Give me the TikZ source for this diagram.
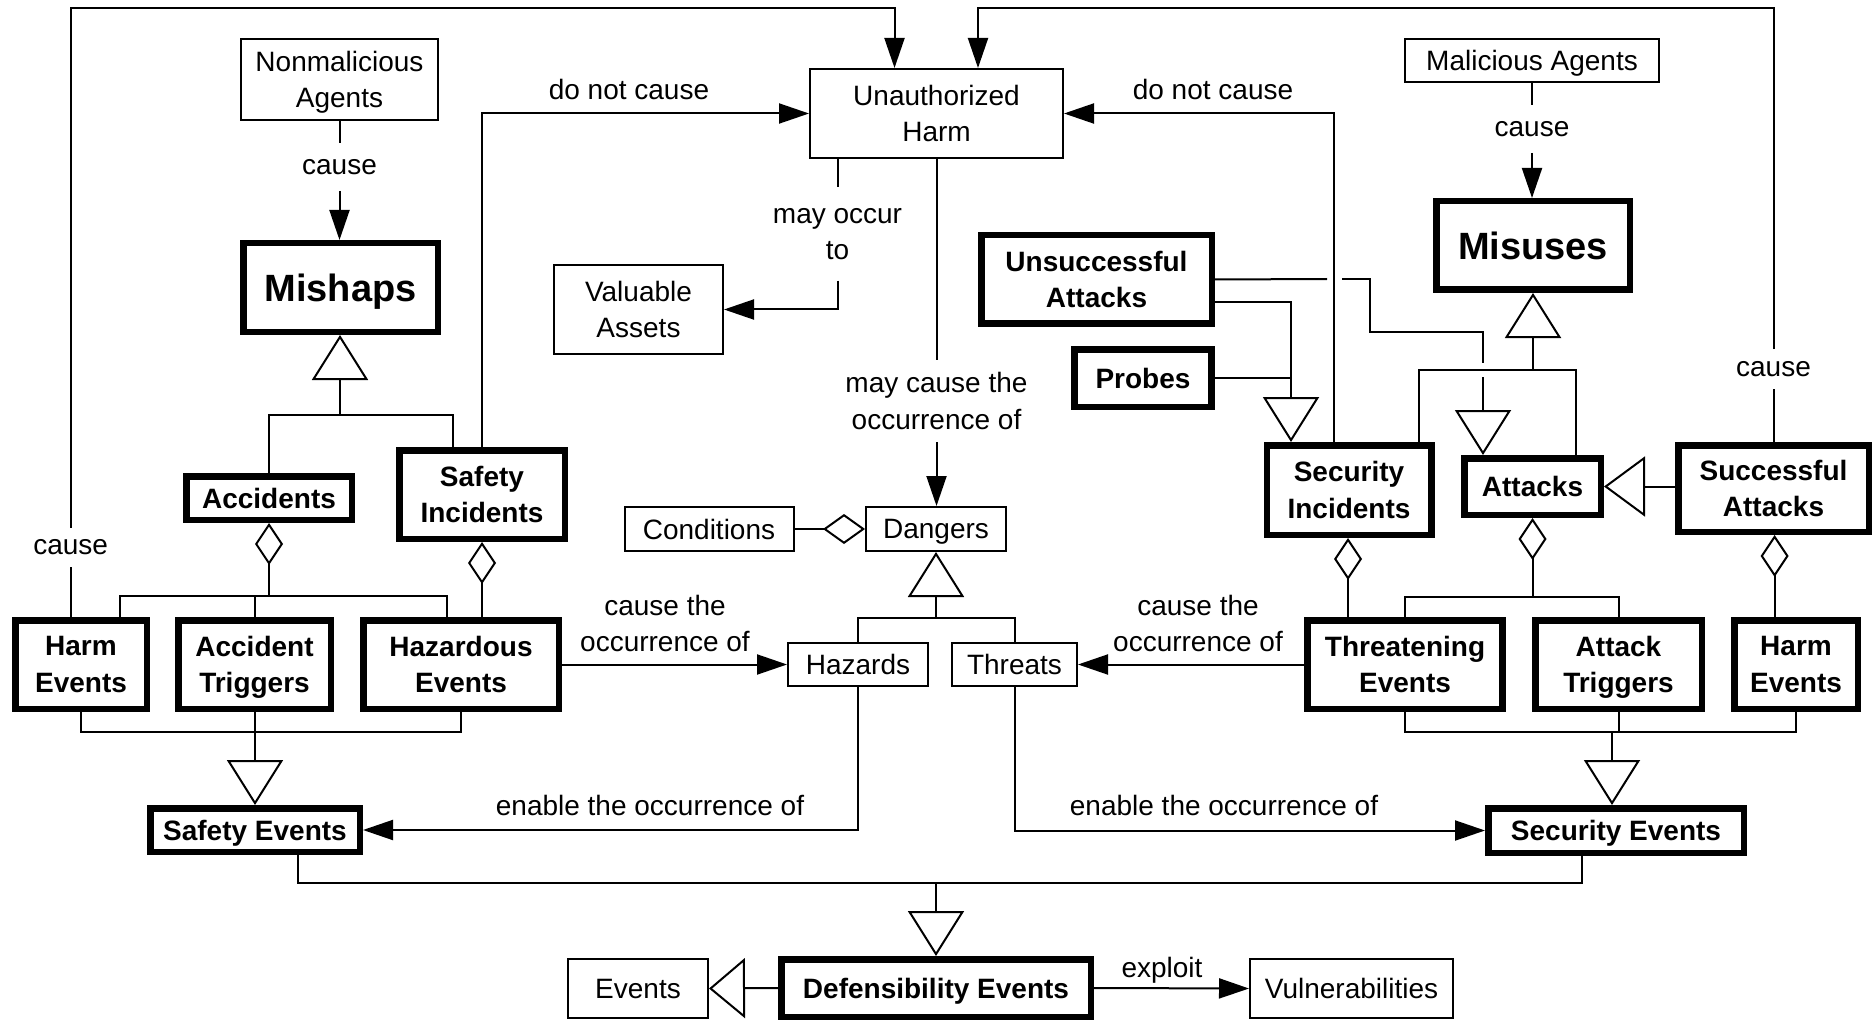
\documentclass[tikz,border=0pt]{standalone}
\usepackage{fontspec}
\setmainfont{Liberation Sans}
\usetikzlibrary{arrows.meta}
\newcommand\txtfont{\fontsize{28}{36.5}\selectfont}
\newcommand\boldfont{\fontsize{28}{36.5}\selectfont\bfseries}
\newcommand\bigfont{\fontsize{38}{46}\selectfont\bfseries}

\begin{document}
\begin{tikzpicture}[x=1pt,y=-1pt,
  thinbox/.style={draw, line width=2pt, inner sep=0pt, font=\txtfont, align=center, text depth=0pt},
  thickbox/.style={draw, line width=6.5pt, inner sep=0pt, font=\boldfont, align=center, text depth=0pt},
  lbl/.style={font=\txtfont, align=center, inner sep=0pt},
  conn/.style={line width=2pt},
  arr/.style={conn, -{Triangle[length=30pt,width=20pt]}},
  gen/.style={conn, -{Triangle[open,length=45pt,width=56pt]}},
  agg/.style={conn, {Diamond[open,length=42pt,width=28pt]}-},
]
\fill[white] (0,0) rectangle (1874,1024);
\useasboundingbox (0,0) rectangle (1874,1024);

% ---------- plain concept boxes ----------
\node[thinbox, minimum width=197pt, minimum height=81pt] (NA) at (339.5,79.5) {Nonmalicious\\Agents};
\node[thinbox, minimum width=253pt, minimum height=89pt] (UH) at (936.5,113.5) {Unauthorized\\Harm};
\node[thinbox, minimum width=169pt, minimum height=89pt] (VA) at (638.5,309.5) {Valuable\\Assets};
\node[thinbox, minimum width=254pt, minimum height=43pt] (MA) at (1532,60.5) {Malicious Agents};
\node[thinbox, minimum width=169pt, minimum height=44pt] (Cond) at (709,529) {Conditions};
\node[thinbox, minimum width=140pt, minimum height=44pt] (Dang) at (936,529) {Dangers};
\node[thinbox, minimum width=140pt, minimum height=43pt] (Haz) at (858,664.5) {Hazards};
\node[thinbox, minimum width=125pt, minimum height=43pt] (Thr) at (1014.5,664.5) {Threats};
\node[thinbox, minimum width=140pt, minimum height=59pt] (Ev) at (638,988.5) {Events};
\node[thinbox, minimum width=203pt, minimum height=59pt] (Vul) at (1351.5,988.5) {Vulnerabilities};

% ---------- emphasised concept boxes ----------
\node[thickbox, font=\bigfont, minimum width=194.5pt, minimum height=88.5pt] (Mishaps) at (340.5,287.5) {Mishaps};
\node[thickbox, minimum width=165.5pt, minimum height=43.5pt] (Acc) at (269,498) {Accidents};
\node[thickbox, minimum width=165.5pt, minimum height=88.5pt] (SafInc) at (482,494.5) {Safety\\Incidents};
\node[thickbox, minimum width=131.5pt, minimum height=88.5pt] (HarmL) at (81,664.5) {Harm\\Events};
\node[thickbox, minimum width=152.5pt, minimum height=88.5pt] (AccTrig) at (254.5,664.5) {Accident\\Triggers};
\node[thickbox, minimum width=195.5pt, minimum height=88.5pt] (HazEv) at (461,664.5) {Hazardous\\Events};
\node[thickbox, minimum width=209.5pt, minimum height=43.5pt] (SafEv) at (255,830) {Safety Events};
\node[thickbox, minimum width=309.5pt, minimum height=57.5pt] (DefEv) at (936,988) {Defensibility Events};
\node[thickbox, minimum width=230.5pt, minimum height=88.5pt] (UnsAtt) at (1096.5,279.5) {Unsuccessful\\Attacks};
\node[thickbox, minimum width=137pt, minimum height=57.5pt] (Probes) at (1143,378) {Probes};
\node[thickbox, font=\bigfont, minimum width=193.5pt, minimum height=88.5pt] (Misuses) at (1533,245.5) {Misuses};
\node[thickbox, minimum width=164.5pt, minimum height=89.5pt] (SecInc) at (1349,490) {Security\\Incidents};
\node[thickbox, minimum width=136.5pt, minimum height=56.5pt] (Attacks) at (1532.5,486.5) {Attacks};
\node[thickbox, minimum width=190.5pt, minimum height=86.5pt] (SucAtt) at (1773.5,488.5) {Successful\\Attacks};
\node[thickbox, minimum width=195pt, minimum height=88.5pt] (ThrEv) at (1405,664.5) {Threatening\\Events};
\node[thickbox, minimum width=166.5pt, minimum height=88.5pt] (AttTrig) at (1618.5,664.5) {Attack\\Triggers};
\node[thickbox, minimum width=123.5pt, minimum height=88.5pt] (HarmR) at (1796,664.5) {Harm\\Events};
\node[thickbox, minimum width=255.5pt, minimum height=44.5pt] (SecEv) at (1616,830.5) {Security Events};

% ---------- labels that interrupt their connector ----------
\node[lbl, inner ysep=12pt] (cL) at (70.7,547.5) {cause};
\node[lbl, inner ysep=12pt] (cR) at (1773.5,369) {cause};
\node[lbl, inner ysep=16pt] (cNA) at (339.5,167) {cause};
\node[lbl, inner ysep=16pt] (cMA) at (1532,129) {cause};
\node[lbl, inner ysep=20.5pt] (mayocc) at (837.5,234) {may occur\\to};
\node[lbl, inner ysep=12.75pt] (maycause) at (936.5,401) {may cause the\\occurrence of};

% ---------- labels beside their connector ----------
\node[lbl, anchor=base] (dncL) at (629,99.5) {do not cause};
\node[lbl, anchor=base] (dncR) at (1213,99.5) {do not cause};
\node[lbl, anchor=south] (ctoL) at (665,652) {cause the\\occurrence of};
\node[lbl, anchor=south] (ctoR) at (1198,652) {cause the\\occurrence of};
\node[lbl, anchor=base] (enL) at (650,815) {enable the occurrence of};
\node[lbl, anchor=base] (enR) at (1224,815) {enable the occurrence of};
\node[lbl, anchor=base] (expl) at (1162,977) {exploit};

% ---------- junction points ----------
\coordinate (topL) at (70.7,8);
\coordinate (topR) at (1773.5,8);
\coordinate (mj) at (340,415);
\coordinate (sj) at (255,731.7);
\coordinate (dj) at (936,618);
\coordinate (dfj) at (936,882.5);
\coordinate (mu) at (1533,369.5);
\coordinate (sej) at (1612,731.7);
\coordinate (uaA) at (1327,279);
\coordinate (uaB) at (1342,279);
\coordinate (uaC) at (1483,363);
\coordinate (uaD) at (1483,377);

% ---------- causation loops over the top ----------
\draw[conn] (HarmL.north -| cL) -- (cL.south);
\draw[arr] (cL.north) -- (topL) -- (topL -| 894.5,0) -- (UH.north -| 894.5,0);
\draw[conn] (SucAtt.north) -- (cR.south);
\draw[arr] (cR.north) -- (topR) -- (topR -| 978,0) -- (UH.north -| 978,0);

\draw[conn] (NA.south) -- (cNA.north);
\draw[arr] (cNA.south) -- (cNA.south |- Mishaps.north);
\draw[conn] (MA.south) -- (cMA.north);
\draw[arr] (cMA.south) -- (cMA.south |- Misuses.north);

\draw[arr] (SafInc.north) |- (UH.west);
\draw[arr] (SecInc.north -| 1333.5,0) |- (UH.east);

\draw[conn] (UH.south -| mayocc) -- (mayocc.north);
\draw[arr] (mayocc.south) |- (VA.east);
\draw[conn] (UH.south) -- (maycause.north);
\draw[arr] (maycause.south) -- (maycause.south |- Dang.north);

% ---------- safety side ----------
\draw[gen] (mj) -- (mj |- Mishaps.south);
\draw[conn] (Acc.north) |- (453,415) -- (SafInc.north -| 453,0);

\draw[agg] (Acc.south) -- (Acc.south |- 0,596);
\draw[conn] (HarmL.north -| 120,0) -- (120,596) -- (446.6,596) -- (HazEv.north -| 446.6,0);
\draw[conn] (AccTrig.north) -- (AccTrig.north |- 0,596);
\draw[agg] (SafInc.south) -- (SafInc.south |- HazEv.north);

\draw[conn] (HarmL.south) |- (sj) -| (HazEv.south);
\draw[conn] (AccTrig.south) -- (AccTrig.south |- sj);
\draw[gen] (sj) -- (sj |- SafEv.north);

\draw[arr] (HazEv.east) -- (Haz.west);
\draw[arr] (Haz.south) |- (SafEv.east);

% ---------- dangers ----------
\draw[conn, -{Diamond[open,length=42pt,width=30pt]}] (Cond.east) -- (Dang.west);
\draw[gen] (dj) -- (Dang.south);
\draw[conn] (Haz.north) |- (dj) -| (Thr.north);

% ---------- security side ----------
\draw[gen] (mu) -- (mu |- Misuses.south);
\draw[conn] (SecInc.north -| 1419,0) |- (mu) -| (Attacks.north -| 1576,0);

\draw[gen] (UnsAtt.east |- 0,302) -| (SecInc.north -| 1291,0);
\draw[conn] (Probes.east) -- (Probes.east -| 1291,0);

\draw[conn] (UnsAtt.east) -- (uaA);
\draw[conn] (uaB) -- (1370,279) -- (1370,332) -- (1483,332) -- (uaC);
\draw[gen] (uaD) -- (Attacks.north -| uaD);

\draw[conn, -{Triangle[open,length=41pt,width=60pt]}] (SucAtt.west |- Attacks.east) -- (Attacks.east);

\draw[agg] (SecInc.south -| 1348,0) -- (ThrEv.north -| 1348,0);
\draw[agg] (Attacks.south) -- (Attacks.south |- 0,597);
\draw[conn] (ThrEv.north) -- (ThrEv.north |- 0,597) -- (AttTrig.north |- 0,597) -- (AttTrig.north);
\draw[agg] (SucAtt.south -| 1774.6,0) -- (HarmR.north -| 1774.6,0);

\draw[conn] (ThrEv.south) |- (sej) -| (HarmR.south);
\draw[conn] (AttTrig.south) -- (AttTrig.south |- sej);
\draw[gen] (sej) -- (sej |- SecEv.north);

\draw[arr] (ThrEv.west) -- (Thr.east);
\draw[arr] (Thr.south) |- (SecEv.west);

% ---------- defensibility events ----------
\draw[conn] (SafEv.south -| 298,0) -- (298,882.5) -- (1582,882.5) -- (SecEv.south -| 1582,0);
\draw[gen] (dfj) -- (DefEv.north);
\draw[conn, -{Triangle[open,length=36pt,width=60pt]}] (DefEv.west) -- (Ev.east);
\draw[arr] (DefEv.east) -- (Vul.west);
\end{tikzpicture}
\end{document}
